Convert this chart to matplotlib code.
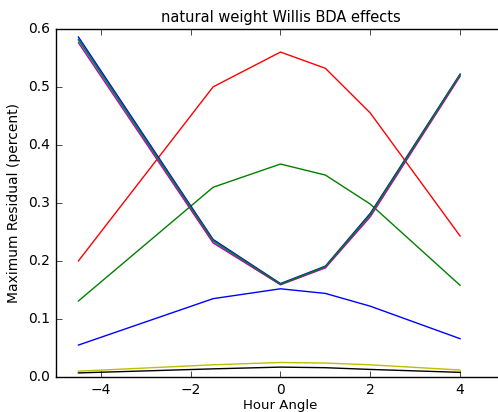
import matplotlib
matplotlib.use('Agg')
import matplotlib.pyplot as plt

plt.style.use('classic')

hour_angle = [-4.5, -1.5, 0, 1, 2, 4]

# residuals per run, plotted in order with the classic b g r c m y k cycle
res_b1 = [0.055, 0.135, 0.152, 0.144, 0.122, 0.066]
res_g1 = [0.131, 0.327, 0.367, 0.348, 0.298, 0.158]
res_r1 = [0.200, 0.500, 0.560, 0.532, 0.455, 0.243]
res_c1 = [0.580, 0.233, 0.159, 0.189, 0.278, 0.520]
res_m1 = [0.576, 0.231, 0.159, 0.188, 0.276, 0.518]
res_y1 = [0.010, 0.021, 0.025, 0.024, 0.021, 0.012]
res_k1 = [0.007, 0.014, 0.017, 0.016, 0.013, 0.008]
res_b2 = [0.586, 0.237, 0.161, 0.191, 0.282, 0.522]
res_g2 = [0.582, 0.235, 0.160, 0.190, 0.280, 0.521]

runs = [res_b1, res_g1, res_r1, res_c1, res_m1, res_y1, res_k1, res_b2, res_g2]

fig = plt.figure(figsize=(4.98, 4.12), dpi=100)
fig.patch.set_facecolor('white')
ax = fig.add_axes([0.1124, 0.085, 0.9016, 0.845])

for r in runs:
    ax.plot(hour_angle, r)

ax.set_xlim(-5, 5)
ax.set_ylim(0, 0.6)
ax.tick_params(labelsize=10)
ax.set_xlabel('Hour Angle', fontsize=9.5, labelpad=2)
ax.set_ylabel('Maximum Residual (percent)', fontsize=10)
ax.set_title('natural weight Willis BDA effects', fontsize=10.5)

fig.savefig('out.png', dpi=100, facecolor='white')
